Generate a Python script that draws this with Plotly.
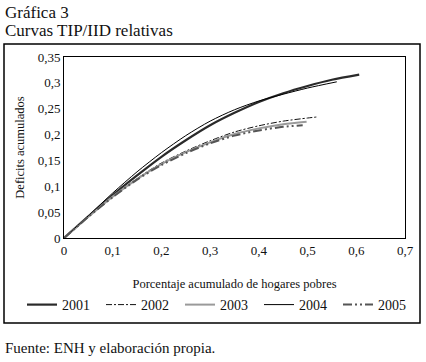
import plotly.graph_objects as go

# Data
x_2001 = [0, 0.05, 0.1, 0.15, 0.2, 0.25, 0.3, 0.35, 0.4, 0.45, 0.5, 0.55, 0.606]
y_2001 = [0, 0.042, 0.083, 0.121, 0.157, 0.189, 0.218, 0.242, 0.263, 0.280, 0.294, 0.306, 0.316]

x_2004 = [0, 0.05, 0.1, 0.15, 0.2, 0.25, 0.3, 0.35, 0.4, 0.45, 0.5, 0.56]
y_2004 = [0, 0.043, 0.087, 0.128, 0.165, 0.198, 0.226, 0.248, 0.265, 0.278, 0.290, 0.302]

x_2003 = [0, 0.05, 0.1, 0.15, 0.2, 0.25, 0.3, 0.35, 0.4, 0.45, 0.498]
y_2003 = [0, 0.041, 0.080, 0.114, 0.143, 0.166, 0.185, 0.201, 0.212, 0.220, 0.225]

x_2002 = [0, 0.05, 0.1, 0.15, 0.2, 0.25, 0.3, 0.35, 0.4, 0.45, 0.5, 0.519]
y_2002 = [0, 0.041, 0.080, 0.115, 0.145, 0.168, 0.188, 0.205, 0.217, 0.226, 0.232, 0.234]

x_2005 = [0, 0.05, 0.1, 0.15, 0.2, 0.25, 0.3, 0.35, 0.4, 0.45, 0.49]
y_2005 = [0, 0.041, 0.079, 0.113, 0.141, 0.164, 0.183, 0.198, 0.208, 0.215, 0.218]

x_ticks = [0, 0.1, 0.2, 0.3, 0.4, 0.5, 0.6, 0.7]
y_ticks = [0, 0.05, 0.1, 0.15, 0.2, 0.25, 0.3, 0.35]

FONT = "Liberation Serif"
INK = "#111111"

series = [
    ("2001", x_2001, y_2001, dict(color="#2a2a2a", width=2.2)),
    ("2002", x_2002, y_2002, dict(color="#111111", width=1, dash="6px,2px,2px,2px")),
    ("2003", x_2003, y_2003, dict(color="#9a9a9a", width=2)),
    ("2004", x_2004, y_2004, dict(color="#000000", width=1)),
    ("2005", x_2005, y_2005, dict(color="#555555", width=2, dash="9px,3px,2px,3px,2px,3px")),
]

fig = go.Figure()
for name, xs, ys, line in series:
    fig.add_trace(go.Scatter(x=xs, y=ys, name=name, mode="lines",
                             line=dict(shape="spline", smoothing=0.8, **line)))

W, H = 426, 362
L, R, T, B = 64, 21, 57, 124
pw, ph = W - L - R, H - T - B

def px(x):
    return (x - L) / pw

def py(y):
    return (H - B - y) / ph

fig.update_layout(
    width=W, height=H,
    margin=dict(l=L, r=R, t=T, b=B),
    paper_bgcolor="white", plot_bgcolor="white",
    separators=",.",
    font=dict(family=FONT, color=INK, size=13),
    showlegend=True,
    legend=dict(orientation="h", x=px(22), xanchor="left", y=py(305), yanchor="middle",
                font=dict(family=FONT, size=14, color=INK),
                entrywidth=34, entrywidthmode="pixels", bgcolor="rgba(0,0,0,0)",
                tracegroupgap=0),
    xaxis=dict(range=[0, 0.7], tickvals=x_ticks, showgrid=False, zeroline=False,
               showline=True, mirror=True, linecolor="black", linewidth=1,
               ticks="", tickfont=dict(family=FONT, size=13, color=INK),
               title=dict(text="Porcentaje acumulado de hogares pobres",
                          font=dict(family=FONT, size=12.5, color=INK), standoff=22)),
    yaxis=dict(range=[0, 0.35], tickvals=y_ticks, showgrid=False, zeroline=False,
               showline=True, mirror=True, linecolor="black", linewidth=1,
               ticks="", tickfont=dict(family=FONT, size=13, color=INK),
               title=dict(text="Deficits acumulados",
                          font=dict(family=FONT, size=12.5, color=INK), standoff=10)),
)

# outer frame
fig.add_shape(type="rect", xref="paper", yref="paper",
              x0=px(4), x1=px(420), y0=py(323), y1=py(44),
              line=dict(color="black", width=1.5), fillcolor="rgba(0,0,0,0)", layer="above")

fig.add_annotation(xref="paper", yref="paper", x=px(3), y=py(13), xanchor="left", yanchor="middle",
                   text="Gráfica 3", showarrow=False, font=dict(family=FONT, size=17, color=INK))
fig.add_annotation(xref="paper", yref="paper", x=px(3), y=py(31), xanchor="left", yanchor="middle",
                   text="Curvas TIP/IID relativas", showarrow=False,
                   font=dict(family=FONT, size=17, color=INK))
fig.add_annotation(xref="paper", yref="paper", x=px(3), y=py(348), xanchor="left", yanchor="middle",
                   text="Fuente: ENH y elaboración propia.", showarrow=False,
                   font=dict(family=FONT, size=15, color=INK))

fig.write_html("out.html", config={"displayModeBar": False},
               post_script="document.body.style.margin='0px';")
